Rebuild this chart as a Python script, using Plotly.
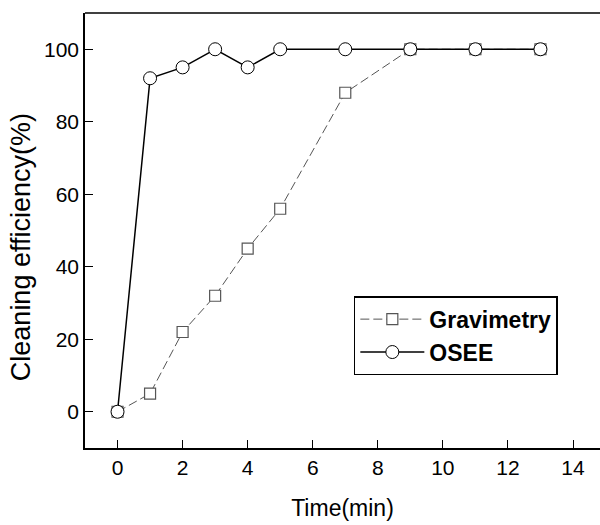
import plotly.graph_objects as go

time_min = [0, 1, 2, 3, 4, 5, 7, 9, 11, 13]
gravimetry = [0, 5, 22, 32, 45, 56, 88, 100, 100, 100]
osee = [0, 92, 95, 100, 95, 100, 100, 100, 100, 100]
x_ticks = [0, 2, 4, 6, 8, 10, 12, 14]
y_ticks = [0, 20, 40, 60, 80, 100]

FONT = "Arial, Liberation Sans, sans-serif"

fig = go.Figure()
fig.add_trace(go.Scatter(
    x=time_min, y=gravimetry, name="Gravimetry", mode="lines+markers",
    line=dict(color="#555555", width=1, dash="9px,4px"),
    marker=dict(symbol="square", size=11, color="white",
                line=dict(color="#555555", width=1.2)),
))
fig.add_trace(go.Scatter(
    x=time_min, y=osee, name="OSEE", mode="lines+markers",
    line=dict(color="black", width=1.5),
    marker=dict(symbol="circle", size=13, color="white",
                line=dict(color="black", width=1)),
))

fig.update_layout(
    width=600, height=525,
    margin=dict(l=85, r=0, t=13, b=77),
    plot_bgcolor="white", paper_bgcolor="white",
    font=dict(family=FONT, color="black", size=20),
    showlegend=True,
    legend=dict(
        x=0.522, y=0.349, xanchor="left", yanchor="top",
        bordercolor="black", borderwidth=1.5, bgcolor="white",
        font=dict(family=FONT, size=23, color="black", weight="bold"),
        tracegroupgap=0, itemwidth=64,
    ),
    xaxis=dict(
        range=[-1, 14.83], tickvals=x_ticks, ticks="inside", ticklen=8,
        tickwidth=1.2, tickcolor="black", showline=True, linecolor="black",
        linewidth=1.5, showgrid=False, zeroline=False,
        title=dict(text="Time(min)", font=dict(size=23), standoff=22),
        tickfont=dict(size=21),
    ),
    yaxis=dict(
        range=[-10, 110], tickvals=y_ticks, ticks="inside", ticklen=8,
        tickwidth=1.2, tickcolor="black", showline=True, linecolor="black",
        linewidth=1.5, showgrid=False, zeroline=False,
        tickfont=dict(size=21),
    ),
    annotations=[dict(
        text="Cleaning efficiency(%)", textangle=-90, showarrow=False,
        xref="paper", yref="paper", x=-0.124, y=0.462,
        xanchor="center", yanchor="middle", font=dict(size=27),
    )],
    shapes=[dict(type="line", xref="paper", yref="paper", x0=0, x1=1, y0=1, y1=1,
                 line=dict(color="black", width=1.5))],
)

fig.write_html("out.html")
